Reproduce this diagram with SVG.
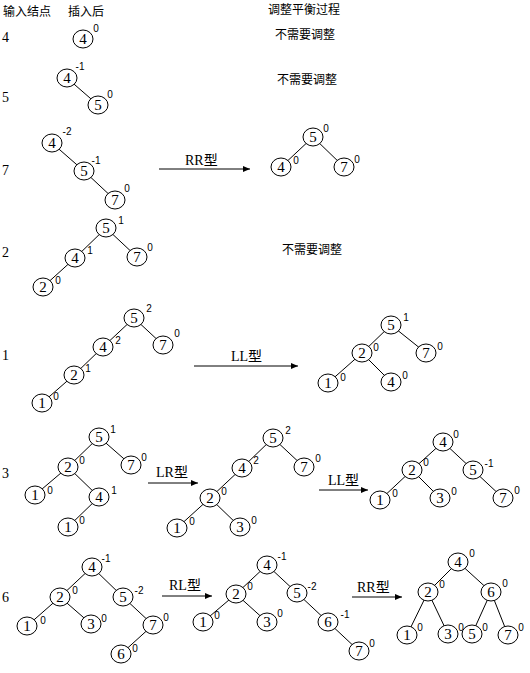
<svg xmlns="http://www.w3.org/2000/svg" width="530" height="673" viewBox="0 0 530 673">
<style>
.bg{fill:#fff}
ellipse{fill:#fff;stroke:#000;stroke-width:1}
.d{font-family:"Liberation Serif",serif;font-size:15px;text-anchor:middle}
.s{font-family:"Liberation Sans",sans-serif;font-size:10px;text-anchor:middle}
.h{font-family:"Noto Sans CJK SC",sans-serif;font-size:12px}
.r{font-family:"Liberation Serif",serif;font-size:14px}
.a{font-family:"Liberation Serif","Noto Sans CJK SC",serif;font-size:14px}
.e line{stroke:#000;stroke-width:1}
.arr line{stroke:#000;stroke-width:1;marker-end:url(#ah)}
</style>
<defs>
<marker id="ah" markerUnits="userSpaceOnUse" markerWidth="8" markerHeight="6" refX="7" refY="3" orient="auto">
<path d="M0,0 L7,3 L0,6 Z" fill="#000"/>
</marker>
</defs>
<rect class="bg" width="530" height="673"/>
<g id="headers">
<text class="h" x="3" y="16">输入结点</text>
<text class="h" x="68" y="16">插入后</text>
<text class="h" x="268" y="14">调整平衡过程</text>
<text class="h" x="275" y="39">不需要调整</text>
<text class="h" x="277" y="84">不需要调整</text>
<text class="h" x="282" y="254">不需要调整</text>
</g>
<g id="row-labels">
<text class="r" x="2" y="42">4</text>
<text class="r" x="2" y="102">5</text>
<text class="r" x="2" y="175">7</text>
<text class="r" x="2" y="257">2</text>
<text class="r" x="2" y="360">1</text>
<text class="r" x="2" y="478">3</text>
<text class="r" x="2" y="602">6</text>
</g>
<g id="connectors">
<g class="e">
<line x1="67" y1="78" x2="98" y2="105"/>
<line x1="52" y1="143" x2="84" y2="171"/>
<line x1="84" y1="171" x2="115" y2="200"/>
<line x1="313" y1="137" x2="281" y2="167"/>
<line x1="313" y1="137" x2="344" y2="167"/>
<line x1="106" y1="228" x2="75" y2="258"/>
<line x1="106" y1="228" x2="137" y2="257"/>
<line x1="75" y1="258" x2="43" y2="287"/>
<line x1="134" y1="318" x2="103" y2="347"/>
<line x1="134" y1="318" x2="163" y2="345"/>
<line x1="103" y1="347" x2="74" y2="375"/>
<line x1="74" y1="375" x2="42" y2="403"/>
<line x1="391" y1="325" x2="362" y2="353"/>
<line x1="391" y1="325" x2="426" y2="353"/>
<line x1="362" y1="353" x2="328" y2="383"/>
<line x1="362" y1="353" x2="391" y2="382"/>
<line x1="99" y1="437" x2="68" y2="467"/>
<line x1="99" y1="437" x2="131" y2="465"/>
<line x1="68" y1="467" x2="35" y2="495"/>
<line x1="68" y1="467" x2="99" y2="497"/>
<line x1="99" y1="497" x2="68" y2="527"/>
<line x1="273" y1="438" x2="242" y2="468"/>
<line x1="273" y1="438" x2="304" y2="467"/>
<line x1="242" y1="468" x2="210" y2="498"/>
<line x1="210" y1="498" x2="177" y2="528"/>
<line x1="210" y1="498" x2="240" y2="527"/>
<line x1="443" y1="442" x2="412" y2="470"/>
<line x1="443" y1="442" x2="473" y2="470"/>
<line x1="412" y1="470" x2="380" y2="500"/>
<line x1="412" y1="470" x2="440" y2="498"/>
<line x1="473" y1="470" x2="503" y2="498"/>
<line x1="92" y1="567" x2="60" y2="597"/>
<line x1="92" y1="567" x2="123" y2="597"/>
<line x1="60" y1="597" x2="27" y2="626"/>
<line x1="60" y1="597" x2="91" y2="624"/>
<line x1="123" y1="597" x2="153" y2="625"/>
<line x1="153" y1="625" x2="121" y2="654"/>
<line x1="267" y1="565" x2="236" y2="594"/>
<line x1="267" y1="565" x2="297" y2="593"/>
<line x1="236" y1="594" x2="203" y2="622"/>
<line x1="236" y1="594" x2="267" y2="622"/>
<line x1="297" y1="593" x2="328" y2="622"/>
<line x1="328" y1="622" x2="359" y2="651"/>
<line x1="458" y1="562" x2="428" y2="592"/>
<line x1="458" y1="562" x2="491" y2="592"/>
<line x1="428" y1="592" x2="407" y2="635"/>
<line x1="428" y1="592" x2="448" y2="634"/>
<line x1="491" y1="592" x2="472" y2="634"/>
<line x1="491" y1="592" x2="508" y2="635"/>
</g>
<g class="arr">
<line x1="159" y1="169" x2="250" y2="169"/>
<line x1="194" y1="366" x2="298" y2="366"/>
<line x1="148" y1="483" x2="198" y2="483"/>
<line x1="319" y1="490" x2="368" y2="490"/>
<line x1="162" y1="596" x2="212" y2="596"/>
<line x1="352" y1="597" x2="402" y2="597"/>
</g>
<g id="arrow-labels">
<text class="a" x="185" y="165">RR型</text>
<text class="a" x="231" y="361">LL型</text>
<text class="a" x="156" y="477">LR型</text>
<text class="a" x="328" y="485">LL型</text>
<text class="a" x="169" y="590">RL型</text>
<text class="a" x="357" y="592">RR型</text>
</g>
</g>
<g id="t1-4"><ellipse cx="83" cy="39" rx="10" ry="9"/><text class="d" x="83" y="44">4</text><text class="s" x="96" y="32">0</text></g>
<g id="t2-4"><ellipse cx="67" cy="78" rx="10" ry="9"/><text class="d" x="67" y="83">4</text><text class="s" x="80" y="70">-1</text></g>
<g id="t2-5"><ellipse cx="98" cy="105" rx="10" ry="9"/><text class="d" x="98" y="110">5</text><text class="s" x="110" y="98">0</text></g>
<g id="t3-4"><ellipse cx="52" cy="143" rx="10" ry="9"/><text class="d" x="52" y="148">4</text><text class="s" x="67" y="135">-2</text></g>
<g id="t3-5"><ellipse cx="84" cy="171" rx="10" ry="9"/><text class="d" x="84" y="176">5</text><text class="s" x="96" y="164">-1</text></g>
<g id="t3-7"><ellipse cx="115" cy="200" rx="10" ry="9"/><text class="d" x="115" y="205">7</text><text class="s" x="127" y="192">0</text></g>
<g id="t3r-5"><ellipse cx="313" cy="137" rx="10" ry="9"/><text class="d" x="313" y="142">5</text><text class="s" x="326" y="132">0</text></g>
<g id="t3r-4"><ellipse cx="281" cy="167" rx="10" ry="9"/><text class="d" x="281" y="172">4</text><text class="s" x="296" y="164">0</text></g>
<g id="t3r-7"><ellipse cx="344" cy="167" rx="10" ry="9"/><text class="d" x="344" y="172">7</text><text class="s" x="357" y="163">0</text></g>
<g id="t4-5"><ellipse cx="106" cy="228" rx="10" ry="9"/><text class="d" x="106" y="233">5</text><text class="s" x="121" y="224">1</text></g>
<g id="t4-4"><ellipse cx="75" cy="258" rx="10" ry="9"/><text class="d" x="75" y="263">4</text><text class="s" x="90" y="254">1</text></g>
<g id="t4-7"><ellipse cx="137" cy="257" rx="10" ry="9"/><text class="d" x="137" y="262">7</text><text class="s" x="150" y="251">0</text></g>
<g id="t4-2"><ellipse cx="43" cy="287" rx="10" ry="9"/><text class="d" x="43" y="292">2</text><text class="s" x="58" y="284">0</text></g>
<g id="t5-5"><ellipse cx="134" cy="318" rx="10" ry="9"/><text class="d" x="134" y="323">5</text><text class="s" x="149" y="312">2</text></g>
<g id="t5-7"><ellipse cx="163" cy="345" rx="10" ry="9"/><text class="d" x="163" y="350">7</text><text class="s" x="177" y="337">0</text></g>
<g id="t5-4"><ellipse cx="103" cy="347" rx="10" ry="9"/><text class="d" x="103" y="352">4</text><text class="s" x="118" y="344">2</text></g>
<g id="t5-2"><ellipse cx="74" cy="375" rx="10" ry="9"/><text class="d" x="74" y="380">2</text><text class="s" x="88" y="372">1</text></g>
<g id="t5-1"><ellipse cx="42" cy="403" rx="10" ry="9"/><text class="d" x="42" y="408">1</text><text class="s" x="56" y="400">0</text></g>
<g id="t5r-5"><ellipse cx="391" cy="325" rx="10" ry="9"/><text class="d" x="391" y="330">5</text><text class="s" x="406" y="321">1</text></g>
<g id="t5r-2"><ellipse cx="362" cy="353" rx="10" ry="9"/><text class="d" x="362" y="358">2</text><text class="s" x="376" y="351">0</text></g>
<g id="t5r-7"><ellipse cx="426" cy="353" rx="10" ry="9"/><text class="d" x="426" y="358">7</text><text class="s" x="440" y="350">0</text></g>
<g id="t5r-1"><ellipse cx="328" cy="383" rx="10" ry="9"/><text class="d" x="328" y="388">1</text><text class="s" x="343" y="381">0</text></g>
<g id="t5r-4"><ellipse cx="391" cy="382" rx="10" ry="9"/><text class="d" x="391" y="387">4</text><text class="s" x="405" y="379">0</text></g>
<g id="t6-5"><ellipse cx="99" cy="437" rx="10" ry="9"/><text class="d" x="99" y="442">5</text><text class="s" x="113" y="433">1</text></g>
<g id="t6-2"><ellipse cx="68" cy="467" rx="10" ry="9"/><text class="d" x="68" y="472">2</text><text class="s" x="82" y="464">0</text></g>
<g id="t6-7"><ellipse cx="131" cy="465" rx="10" ry="9"/><text class="d" x="131" y="470">7</text><text class="s" x="144" y="461">0</text></g>
<g id="t6-1"><ellipse cx="35" cy="495" rx="10" ry="9"/><text class="d" x="35" y="500">1</text><text class="s" x="50" y="494">0</text></g>
<g id="t6-4"><ellipse cx="99" cy="497" rx="10" ry="9"/><text class="d" x="99" y="502">4</text><text class="s" x="114" y="494">1</text></g>
<g id="t6-1b"><ellipse cx="68" cy="527" rx="10" ry="9"/><text class="d" x="68" y="532">1</text><text class="s" x="82" y="524">0</text></g>
<g id="t6m-5"><ellipse cx="273" cy="438" rx="10" ry="9"/><text class="d" x="273" y="443">5</text><text class="s" x="288" y="434">2</text></g>
<g id="t6m-4"><ellipse cx="242" cy="468" rx="10" ry="9"/><text class="d" x="242" y="473">4</text><text class="s" x="256" y="464">2</text></g>
<g id="t6m-7"><ellipse cx="304" cy="467" rx="10" ry="9"/><text class="d" x="304" y="472">7</text><text class="s" x="318" y="462">0</text></g>
<g id="t6m-2"><ellipse cx="210" cy="498" rx="10" ry="9"/><text class="d" x="210" y="503">2</text><text class="s" x="224" y="495">0</text></g>
<g id="t6m-1"><ellipse cx="177" cy="528" rx="10" ry="9"/><text class="d" x="177" y="533">1</text><text class="s" x="192" y="525">0</text></g>
<g id="t6m-3"><ellipse cx="240" cy="527" rx="10" ry="9"/><text class="d" x="240" y="532">3</text><text class="s" x="254" y="524">0</text></g>
<g id="t6r-4"><ellipse cx="443" cy="442" rx="10" ry="9"/><text class="d" x="443" y="447">4</text><text class="s" x="456" y="438">0</text></g>
<g id="t6r-2"><ellipse cx="412" cy="470" rx="10" ry="9"/><text class="d" x="412" y="475">2</text><text class="s" x="426" y="466">0</text></g>
<g id="t6r-5"><ellipse cx="473" cy="470" rx="10" ry="9"/><text class="d" x="473" y="475">5</text><text class="s" x="489" y="467">-1</text></g>
<g id="t6r-1"><ellipse cx="380" cy="500" rx="10" ry="9"/><text class="d" x="380" y="505">1</text><text class="s" x="395" y="497">0</text></g>
<g id="t6r-3"><ellipse cx="440" cy="498" rx="10" ry="9"/><text class="d" x="440" y="503">3</text><text class="s" x="454" y="495">0</text></g>
<g id="t6r-7"><ellipse cx="503" cy="498" rx="10" ry="9"/><text class="d" x="503" y="503">7</text><text class="s" x="517" y="494">0</text></g>
<g id="t7-4"><ellipse cx="92" cy="567" rx="10" ry="9"/><text class="d" x="92" y="572">4</text><text class="s" x="106" y="562">-1</text></g>
<g id="t7-2"><ellipse cx="60" cy="597" rx="10" ry="9"/><text class="d" x="60" y="602">2</text><text class="s" x="75" y="594">0</text></g>
<g id="t7-5"><ellipse cx="123" cy="597" rx="10" ry="9"/><text class="d" x="123" y="602">5</text><text class="s" x="139" y="594">-2</text></g>
<g id="t7-1"><ellipse cx="27" cy="626" rx="10" ry="9"/><text class="d" x="27" y="631">1</text><text class="s" x="43" y="624">0</text></g>
<g id="t7-3"><ellipse cx="91" cy="624" rx="10" ry="9"/><text class="d" x="91" y="629">3</text><text class="s" x="104" y="622">0</text></g>
<g id="t7-7"><ellipse cx="153" cy="625" rx="10" ry="9"/><text class="d" x="153" y="630">7</text><text class="s" x="166" y="621">0</text></g>
<g id="t7-6"><ellipse cx="121" cy="654" rx="10" ry="9"/><text class="d" x="121" y="659">6</text><text class="s" x="135" y="652">0</text></g>
<g id="t7m-4"><ellipse cx="267" cy="565" rx="10" ry="9"/><text class="d" x="267" y="570">4</text><text class="s" x="282" y="560">-1</text></g>
<g id="t7m-2"><ellipse cx="236" cy="594" rx="10" ry="9"/><text class="d" x="236" y="599">2</text><text class="s" x="250" y="590">0</text></g>
<g id="t7m-5"><ellipse cx="297" cy="593" rx="10" ry="9"/><text class="d" x="297" y="598">5</text><text class="s" x="312" y="590">-2</text></g>
<g id="t7m-1"><ellipse cx="203" cy="622" rx="10" ry="9"/><text class="d" x="203" y="627">1</text><text class="s" x="217" y="619">0</text></g>
<g id="t7m-3"><ellipse cx="267" cy="622" rx="10" ry="9"/><text class="d" x="267" y="627">3</text><text class="s" x="280" y="617">0</text></g>
<g id="t7m-6"><ellipse cx="328" cy="622" rx="10" ry="9"/><text class="d" x="328" y="627">6</text><text class="s" x="345" y="618">-1</text></g>
<g id="t7m-7"><ellipse cx="359" cy="651" rx="10" ry="9"/><text class="d" x="359" y="656">7</text><text class="s" x="372" y="647">0</text></g>
<g id="t7r-4"><ellipse cx="458" cy="562" rx="10" ry="9"/><text class="d" x="458" y="567">4</text><text class="s" x="472" y="557">0</text></g>
<g id="t7r-2"><ellipse cx="428" cy="592" rx="10" ry="9"/><text class="d" x="428" y="597">2</text><text class="s" x="442" y="588">0</text></g>
<g id="t7r-6"><ellipse cx="491" cy="592" rx="10" ry="9"/><text class="d" x="491" y="597">6</text><text class="s" x="505" y="587">0</text></g>
<g id="t7r-1"><ellipse cx="407" cy="635" rx="10" ry="9"/><text class="d" x="407" y="640">1</text><text class="s" x="420" y="631">0</text></g>
<g id="t7r-3"><ellipse cx="448" cy="634" rx="10" ry="9"/><text class="d" x="448" y="639">3</text><text class="s" x="461" y="631">0</text></g>
<g id="t7r-5"><ellipse cx="472" cy="634" rx="10" ry="9"/><text class="d" x="472" y="639">5</text><text class="s" x="485" y="631">0</text></g>
<g id="t7r-7"><ellipse cx="508" cy="635" rx="10" ry="9"/><text class="d" x="508" y="640">7</text><text class="s" x="521" y="631">0</text></g>
</svg>
